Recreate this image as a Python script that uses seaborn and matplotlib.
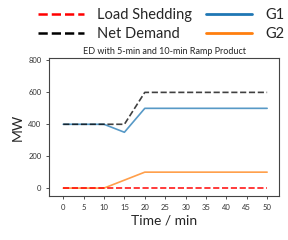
import numpy as np
import pandas as pd
import matplotlib
matplotlib.use('Agg')
import matplotlib.pyplot as plt
import seaborn as sns
from matplotlib.lines import Line2D

sns.set_style("ticks")
plt.rcParams['font.family'] = ['Lato', 'DejaVu Sans']

# 数据
time_min = [0, 5, 10, 15, 20, 25, 30, 35, 40, 45, 50]
g1 = [400, 400, 400, 350, 500, 500, 500, 500, 500, 500, 500]
g2 = [0, 0, 0, 50, 100, 100, 100, 100, 100, 100, 100]
net_demand = [400, 400, 400, 400, 600, 600, 600, 600, 600, 600, 600]
load_shedding = [0, 0, 0, 0, 0, 0, 0, 0, 0, 0, 0]

df = pd.DataFrame({'t': time_min, 'G1': g1, 'G2': g2,
                   'Net Demand': net_demand, 'Load Shedding': load_shedding})

fig = plt.figure(figsize=(2.88, 2.4), dpi=100)
ax = fig.add_axes([0.17, 0.183, 0.80, 0.575])

sns.lineplot(data=df, x='t', y='G1', ax=ax, color='#1f77b4', alpha=0.75, lw=1.2)
sns.lineplot(data=df, x='t', y='G2', ax=ax, color='#ff7f0e', alpha=0.75, lw=1.2)
sns.lineplot(data=df, x='t', y='Net Demand', ax=ax, color='black', alpha=0.75,
             lw=1.2, linestyle='--')
sns.lineplot(data=df, x='t', y='Load Shedding', ax=ax, color='red', alpha=0.9,
             lw=1.2, linestyle='--')

ax.set_xlim(-3.5, 53)
ax.set_ylim(-50, 815)
ax.set_xticks(time_min)
ax.set_yticks([0, 200, 400, 600, 800])
ax.tick_params(labelsize=5.5, length=2.5, width=0.6, pad=3, colors='#333333')
for s in ax.spines.values():
    s.set_linewidth(0.8)
    s.set_color('#444444')
ax.set_title('ED with 5-min and 10-min Ramp Product', fontsize=6.5, pad=3)
ax.set_xlabel('Time / min', fontsize=10, labelpad=3)
ax.set_ylabel('MW', fontsize=10, labelpad=3)

handles = [
    Line2D([], [], color='red', ls='--', lw=1.8),
    Line2D([], [], color='black', ls='--', lw=1.8),
    Line2D([], [], color='#1f77b4', lw=2),
    Line2D([], [], color='#ff7f0e', lw=2),
]
labels = ['Load Shedding', 'Net Demand', 'G1', 'G2']
fig.legend(handles, labels, ncol=2, loc='upper left', bbox_to_anchor=(0.085, 1.02),
           frameon=False, fontsize=10.5, handlelength=3.2, columnspacing=0.9,
           labelspacing=0.3, handletextpad=0.9)

fig.savefig('out.png', dpi=100)
